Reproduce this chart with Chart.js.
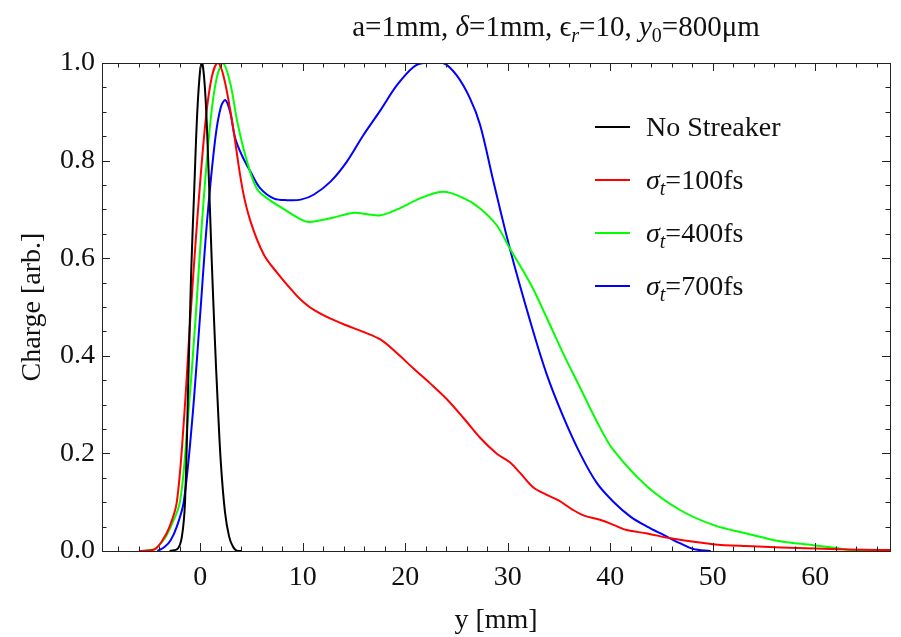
<!DOCTYPE html>
<html>
<head>
<meta charset="utf-8">
<script src="https://cdn.jsdelivr.net/npm/chart.js@4.4.1/dist/chart.umd.min.js"></script>
<style>
  html, body { margin: 0; padding: 0; background: #fff; }
  canvas { display: block; }
</style>
</head>
<body>
<canvas id="chart" width="901" height="637"></canvas>
<script>
// ---- data ----
const blackX = [-3, -2.2, -1.8, -1.5, -1.2, -0.9, -0.6, -0.3, 0, 0.2, 0.5, 0.8, 1.1, 1.4, 1.7, 2.0, 2.4, 2.8, 3.2, 3.6, 4];
const blackY = [0, 0.005, 0.03, 0.1, 0.33, 0.57, 0.74, 0.9, 0.99, 1.0, 0.93, 0.78, 0.6, 0.44, 0.3, 0.18, 0.08, 0.03, 0.008, 0, 0];

const redX = [-6, -4.5, -3.7, -3, -2.3, -1.6, -1, -0.3, 0.5, 1.1, 1.7, 2.3, 3.1, 4.1, 4.9, 6.2, 7.5, 8.9, 9.8, 11, 12.7, 14.3, 15.9, 17.6, 19.2, 20.8, 22.4, 24.1, 25.7, 27.3, 28.9, 30.2, 31.2, 32.5, 33.8, 35.0, 36.3, 37.5, 39, 40.5, 41.6, 43.6, 45.9, 50, 53.3, 60, 66.3, 68];
const redY = [0, 0.003, 0.022, 0.05, 0.1, 0.27, 0.47, 0.68, 0.88, 0.97, 1.0, 0.97, 0.88, 0.743, 0.675, 0.607, 0.57, 0.535, 0.515, 0.495, 0.476, 0.462, 0.449, 0.433, 0.405, 0.374, 0.344, 0.31, 0.272, 0.232, 0.2, 0.182, 0.16, 0.13, 0.115, 0.103, 0.085, 0.072, 0.064, 0.052, 0.043, 0.036, 0.026, 0.014, 0.01, 0.005, 0.002, 0.002];

const greenX = [-5.5, -4.5, -3.6, -3, -2, -1.24, -0.49, 0.16, 0.98, 1.6, 2.2, 2.9, 3.6, 4.4, 5.5, 6.7, 7.8, 9.76, 10.6, 12.7, 15.0, 16.3, 17.6, 19.2, 21.5, 23.7, 25.7, 27.3, 28.9, 30.2, 32.2, 33.8, 35.4, 37.1, 38.7, 40.3, 43.6, 46.8, 50.1, 53.3, 56.6, 59.8, 63.1, 64.5, 68];
const greenY = [0, 0.004, 0.022, 0.045, 0.1, 0.265, 0.47, 0.675, 0.88, 0.97, 1.0, 0.96, 0.88, 0.81, 0.743, 0.72, 0.705, 0.68, 0.674, 0.682, 0.693, 0.69, 0.688, 0.7, 0.723, 0.736, 0.723, 0.702, 0.668, 0.62, 0.548, 0.478, 0.405, 0.333, 0.265, 0.207, 0.132, 0.084, 0.053, 0.036, 0.02, 0.012, 0.003, 0, 0];

const blueX = [-4.2, -3.5, -2.9, -2.3, -1.63, -0.81, -0.07, 0.65, 1.46, 2.0, 2.44, 2.9, 3.4, 4.07, 4.9, 5.85, 7.2, 8.5, 9.8, 11.05, 12.7, 14.3, 15.9, 17.6, 19.2, 20.8, 21.8, 23.7, 25.0, 26.3, 27.3, 28.6, 30.2, 32.2, 33.8, 35.4, 37.1, 38.7, 40.3, 42.0, 43.6, 45.2, 46.8, 48.1, 49.8];
const blueY = [0, 0.008, 0.022, 0.05, 0.1, 0.265, 0.47, 0.675, 0.846, 0.91, 0.924, 0.9, 0.846, 0.81, 0.777, 0.743, 0.722, 0.719, 0.72, 0.73, 0.757, 0.798, 0.852, 0.904, 0.955, 0.992, 1.0, 1.0, 0.975, 0.928, 0.873, 0.757, 0.62, 0.47, 0.362, 0.276, 0.198, 0.139, 0.101, 0.07, 0.05, 0.033, 0.016, 0.004, 0];

const xTicks = [0, 10, 20, 30, 40, 50, 60];
const yTicks = [0, 0.2, 0.4, 0.6, 0.8, 1.0];
const legendNames = ["No Streaker", "100fs", "400fs", "700fs"];
const seriesColors = ["#000000", "#ff0000", "#00ff00", "#0000ff"];

const serif = "'Liberation Serif', 'Times New Roman', serif";

function pts(xs, ys) { return xs.map((x, i) => ({ x: x, y: ys[i] })); }

function lineSet(label, xs, ys, color) {
  return {
    label: label, data: pts(xs, ys), borderColor: color, backgroundColor: color,
    borderWidth: 2, pointRadius: 0, showLine: true, fill: false, tension: 0.35
  };
}

// frame with inward ticks, like Mathematica's Frame->True
const framePlugin = {
  id: 'frame',
  afterDraw(chart) {
    const ctx = chart.ctx, a = chart.chartArea;
    const xs = chart.scales.x, ys = chart.scales.y;
    ctx.save();
    ctx.strokeStyle = '#222';
    ctx.lineWidth = 1;
    ctx.strokeRect(a.left + 0.5, a.top + 0.5, a.right - a.left, a.bottom - a.top);
    ctx.beginPath();
    for (let v = Math.ceil(xs.min / 2) * 2; v <= xs.max; v += 2) {
      const px = Math.round(xs.getPixelForValue(v)) + 0.5;
      const len = v % 10 === 0 ? 8 : 4.5;
      ctx.moveTo(px, a.bottom); ctx.lineTo(px, a.bottom - len);
      ctx.moveTo(px, a.top); ctx.lineTo(px, a.top + len);
    }
    for (let k = 0; k <= 20; k++) {
      const v = k * 0.05;
      const py = Math.round(ys.getPixelForValue(v)) + 0.5;
      const len = k % 4 === 0 ? 8 : 4.5;
      ctx.moveTo(a.left, py); ctx.lineTo(a.left + len, py);
      ctx.moveTo(a.right, py); ctx.lineTo(a.right - len, py);
    }
    ctx.stroke();
    ctx.restore();
  }
};

// draws a run of [text, style] pieces; style: 'n' normal, 'i' italic, 'si' italic subscript, 's' subscript
function runFont(st, size) {
  const sub = st === 's' || st === 'si';
  return (st === 'i' || st === 'si' ? 'italic ' : '') + (sub ? Math.round(size * 0.7) : size) + 'px ' + serif;
}
function drawRuns(ctx, runs, x, y, size) {
  let cx = x;
  runs.forEach(([txt, st]) => {
    ctx.font = runFont(st, size);
    ctx.fillText(txt, cx, (st === 's' || st === 'si') ? y + size * 0.22 : y);
    cx += ctx.measureText(txt).width;
  });
}
function runsWidth(ctx, runs, size) {
  let w = 0;
  runs.forEach(([txt, st]) => { ctx.font = runFont(st, size); w += ctx.measureText(txt).width; });
  return w;
}

const textPlugin = {
  id: 'texts',
  afterDraw(chart) {
    const ctx = chart.ctx;
    ctx.save();
    ctx.fillStyle = '#111';
    ctx.textBaseline = 'alphabetic';
    // title
    const title = [['a=1mm, ', 'n'], ['\u03b4', 'i'], ['=1mm, ', 'n'], ['\u03f5', 'n'], ['r', 'si'],
                   ['=10, ', 'n'], ['y', 'i'], ['0', 's'], ['=800\u03bcm', 'n']];
    const tSize = 29;
    const tw = runsWidth(ctx, title, tSize);
    drawRuns(ctx, title, 556 - tw / 2, 36, tSize);

    // legend
    const rowY = [127, 180, 233, 286];
    const lSize = 28;
    legendNames.forEach((name, i) => {
      ctx.strokeStyle = seriesColors[i];
      ctx.lineWidth = 2;
      ctx.beginPath();
      ctx.moveTo(595, rowY[i]); ctx.lineTo(630, rowY[i]);
      ctx.stroke();
      const runs = i === 0 ? [[name, 'n']] : [['\u03c3', 'i'], ['t', 'si'], ['=' + name, 'n']];
      drawRuns(ctx, runs, 646, rowY[i] + 9, lSize);
    });
    ctx.restore();
  }
};

const ctx = document.getElementById('chart').getContext('2d');
new Chart(ctx, {
  type: 'scatter',
  data: {
    datasets: [
      lineSet(legendNames[0], blackX, blackY, seriesColors[0]),
      lineSet(legendNames[1], redX, redY, seriesColors[1]),
      lineSet(legendNames[2], greenX, greenY, seriesColors[2]),
      lineSet(legendNames[3], blueX, blueY, seriesColors[3])
    ]
  },
  options: {
    responsive: false,
    animation: false,
    devicePixelRatio: 1,
    layout: { padding: { top: 63, right: 11, left: 0, bottom: 0 } },
    plugins: { legend: { display: false }, tooltip: { enabled: false } },
    scales: {
      x: {
        type: 'linear', min: -9.6, max: 67.3,
        afterBuildTicks: s => { s.ticks = xTicks.map(v => ({ value: v })); },
        afterFit: s => { s.height = 86; },
        grid: { display: false, drawTicks: false },
        border: { display: false },
        ticks: { color: '#111', padding: 10, maxRotation: 0, font: { family: serif, size: 28 } },
        title: { display: true, text: 'y [mm]', color: '#111', font: { family: serif, size: 28 }, padding: { top: 0, bottom: 0 } }
      },
      y: {
        type: 'linear', min: 0, max: 1,
        afterBuildTicks: s => { s.ticks = yTicks.map(v => ({ value: v })); },
        afterFit: s => { s.width = 102; },
        grid: { display: false, drawTicks: false },
        border: { display: false },
        ticks: { color: '#111', padding: 7, font: { family: serif, size: 28 }, callback: v => v.toFixed(1) },
        title: { display: true, text: 'Charge [arb.]', color: '#111', font: { family: serif, size: 28 }, padding: { top: 16, bottom: 0 } }
      }
    }
  },
  plugins: [framePlugin, textPlugin]
});
</script>
</body>
</html>
